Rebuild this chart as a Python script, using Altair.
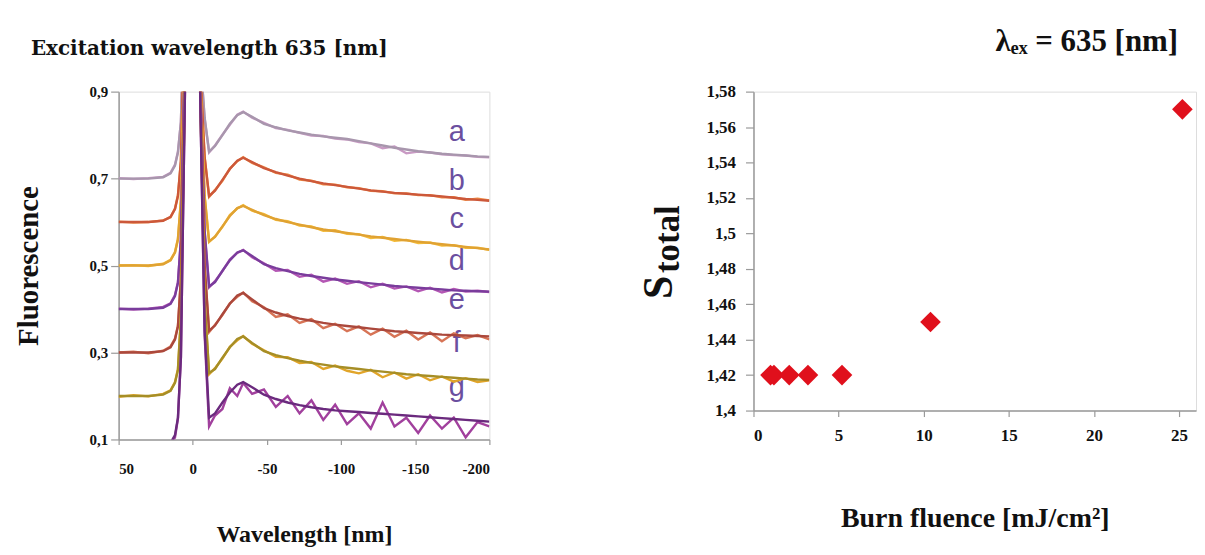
import altair as alt
import pandas as pd

# ---------------- left panel data ----------------
wavelength = [50, 40, 30, 20, 15, 12, 10, 8, 5, 2, 0, -2, -5, -8, -11, -15, -20, -25, -30, -34,
              -40, -48, -56, -64, -72, -80, -88, -96, -104, -112, -120, -128, -136, -144, -152,
              -160, -168, -176, -184, -192, -200]

a_fit = [0.700, 0.700, 0.700, 0.703, 0.712, 0.730, 0.760, 0.830, 1.200, 2.500, 3.000, 2.500, 0.980, 0.840, 0.762, 0.775, 0.800, 0.826, 0.846, 0.853,
         0.842, 0.826, 0.818, 0.811, 0.806, 0.801, 0.797, 0.794, 0.791, 0.786, 0.781, 0.776, 0.771, 0.767, 0.763, 0.760, 0.757, 0.755, 0.753, 0.751, 0.750]
a_obs = [0.701, 0.699, 0.701, 0.704, 0.713, 0.732, 0.762, 0.830, 1.200, 2.500, 3.000, 2.500, 0.980, 0.838, 0.760, 0.776, 0.801, 0.824, 0.847, 0.854,
         0.840, 0.828, 0.816, 0.812, 0.805, 0.799, 0.798, 0.792, 0.790, 0.784, 0.781, 0.770, 0.774, 0.758, 0.762, 0.760, 0.756, 0.754, 0.753, 0.750, 0.749]

b_fit = [0.600, 0.600, 0.600, 0.603, 0.612, 0.630, 0.660, 0.740, 1.150, 2.400, 3.000, 2.400, 0.950, 0.750, 0.660, 0.672, 0.697, 0.722, 0.741, 0.748,
         0.738, 0.724, 0.715, 0.707, 0.700, 0.694, 0.689, 0.685, 0.681, 0.677, 0.673, 0.670, 0.667, 0.665, 0.663, 0.661, 0.659, 0.656, 0.653, 0.651, 0.649]
b_obs = [0.601, 0.599, 0.600, 0.604, 0.611, 0.631, 0.662, 0.740, 1.150, 2.400, 3.000, 2.400, 0.950, 0.748, 0.658, 0.674, 0.695, 0.723, 0.740, 0.749,
         0.736, 0.726, 0.713, 0.709, 0.698, 0.695, 0.687, 0.686, 0.680, 0.678, 0.672, 0.671, 0.666, 0.666, 0.662, 0.662, 0.657, 0.657, 0.651, 0.654, 0.650]

c_fit = [0.500, 0.500, 0.500, 0.503, 0.512, 0.530, 0.560, 0.650, 1.100, 2.300, 3.000, 2.300, 0.930, 0.660, 0.556, 0.566, 0.590, 0.614, 0.632, 0.637,
         0.628, 0.616, 0.607, 0.600, 0.594, 0.588, 0.583, 0.579, 0.575, 0.571, 0.567, 0.564, 0.561, 0.558, 0.555, 0.552, 0.549, 0.546, 0.543, 0.540, 0.537]
c_obs = [0.500, 0.501, 0.499, 0.504, 0.513, 0.531, 0.562, 0.650, 1.100, 2.300, 3.000, 2.300, 0.930, 0.658, 0.554, 0.567, 0.589, 0.616, 0.631, 0.639,
         0.626, 0.618, 0.605, 0.602, 0.592, 0.590, 0.580, 0.581, 0.573, 0.572, 0.563, 0.566, 0.557, 0.559, 0.552, 0.553, 0.546, 0.547, 0.541, 0.541, 0.536]

d_fit = [0.400, 0.400, 0.400, 0.403, 0.412, 0.430, 0.460, 0.560, 1.050, 2.200, 3.000, 2.200, 0.920, 0.580, 0.452, 0.462, 0.488, 0.512, 0.530, 0.535,
         0.522, 0.503, 0.494, 0.487, 0.481, 0.476, 0.472, 0.468, 0.465, 0.462, 0.459, 0.456, 0.453, 0.451, 0.449, 0.447, 0.445, 0.443, 0.442, 0.441, 0.440]
d_obs = [0.401, 0.399, 0.401, 0.405, 0.413, 0.432, 0.462, 0.560, 1.050, 2.200, 3.000, 2.200, 0.920, 0.576, 0.450, 0.464, 0.487, 0.514, 0.529, 0.536,
         0.519, 0.505, 0.488, 0.490, 0.474, 0.479, 0.463, 0.470, 0.458, 0.464, 0.450, 0.458, 0.447, 0.452, 0.441, 0.449, 0.438, 0.446, 0.440, 0.442, 0.439]

e_fit = [0.300, 0.300, 0.300, 0.303, 0.312, 0.330, 0.360, 0.470, 1.000, 2.100, 3.000, 2.100, 0.910, 0.500, 0.350, 0.362, 0.388, 0.412, 0.431, 0.437,
         0.422, 0.402, 0.392, 0.384, 0.378, 0.373, 0.368, 0.364, 0.361, 0.358, 0.355, 0.352, 0.349, 0.347, 0.345, 0.343, 0.341, 0.340, 0.339, 0.338, 0.337]
e_obs = [0.300, 0.302, 0.298, 0.304, 0.314, 0.332, 0.362, 0.470, 1.000, 2.100, 3.000, 2.100, 0.910, 0.495, 0.347, 0.364, 0.386, 0.413, 0.428, 0.438,
         0.418, 0.404, 0.382, 0.388, 0.368, 0.377, 0.356, 0.366, 0.349, 0.360, 0.341, 0.355, 0.336, 0.350, 0.330, 0.346, 0.326, 0.344, 0.333, 0.340, 0.330]

f_fit = [0.200, 0.200, 0.200, 0.203, 0.212, 0.230, 0.260, 0.380, 0.980, 2.000, 3.000, 2.000, 0.900, 0.420, 0.253, 0.262, 0.288, 0.312, 0.331, 0.337,
         0.322, 0.303, 0.294, 0.287, 0.281, 0.276, 0.272, 0.268, 0.265, 0.262, 0.259, 0.256, 0.253, 0.250, 0.248, 0.246, 0.244, 0.242, 0.240, 0.238, 0.237]
f_obs = [0.198, 0.202, 0.199, 0.205, 0.213, 0.232, 0.262, 0.380, 0.980, 2.000, 3.000, 2.000, 0.900, 0.415, 0.250, 0.264, 0.286, 0.313, 0.328, 0.338,
         0.320, 0.305, 0.290, 0.289, 0.276, 0.278, 0.262, 0.270, 0.258, 0.252, 0.260, 0.243, 0.254, 0.240, 0.250, 0.236, 0.245, 0.233, 0.241, 0.232, 0.236]

g_fit = [0.080, 0.080, 0.080, 0.083, 0.092, 0.110, 0.150, 0.290, 0.960, 1.900, 3.000, 1.900, 0.890, 0.350, 0.150, 0.160, 0.185, 0.208, 0.226, 0.232,
         0.220, 0.203, 0.193, 0.185, 0.179, 0.174, 0.170, 0.167, 0.165, 0.163, 0.161, 0.159, 0.157, 0.155, 0.153, 0.151, 0.149, 0.147, 0.145, 0.143, 0.141]
g_obs = [0.070, 0.072, 0.071, 0.074, 0.085, 0.105, 0.148, 0.290, 0.960, 1.900, 3.000, 1.900, 0.890, 0.340, 0.130, 0.155, 0.170, 0.218, 0.200, 0.230,
         0.205, 0.215, 0.175, 0.200, 0.160, 0.190, 0.145, 0.180, 0.135, 0.160, 0.125, 0.185, 0.130, 0.150, 0.115, 0.155, 0.125, 0.150, 0.105, 0.140, 0.130]

series_names = ["a", "b", "c", "d", "e", "f", "g"]
fit_values = [a_fit, b_fit, c_fit, d_fit, e_fit, f_fit, g_fit]
obs_values = [a_obs, b_obs, c_obs, d_obs, e_obs, f_obs, g_obs]
fit_colors = ["#a896ad", "#cc583a", "#e0a232", "#7a3c9c", "#ab483c", "#a68e26", "#6b2a7e"]
obs_colors = ["#c99ac4", "#ee8a44", "#f3bb3a", "#b457b4", "#d77456", "#e1a52a", "#a1409d"]

label_x = [-178, -178, -178, -178, -178, -178, -178]
label_y = [0.808, 0.695, 0.606, 0.510, 0.421, 0.322, 0.221]
label_color = "#6b4f9f"

# ---------------- right panel data ----------------
fluence = [1.0, 1.2, 2.1, 3.2, 5.2, 10.4, 25.2]
s_total = [1.42, 1.42, 1.42, 1.42, 1.42, 1.45, 1.57]

left_x_ticks = [50, 0, -50, -100, -150, -200]
left_y_ticks = [0.1, 0.3, 0.5, 0.7, 0.9]
right_x_ticks = [0, 5, 10, 15, 20, 25]
right_y_ticks = [1.40, 1.42, 1.44, 1.46, 1.48, 1.50, 1.52, 1.54, 1.56, 1.58]

# ---------------- build tables ----------------
rows = []
keys, colors = [], []
for name, fit, obs, fc, oc in zip(series_names, fit_values, obs_values, fit_colors, obs_colors):
    keys += [name + "_obs", name + "_fit"]
    colors += [oc, fc]
    for x, yo, yf in zip(wavelength, obs, fit):
        rows.append({"wl": x, "val": yo, "series": name + "_obs"})
        rows.append({"wl": x, "val": yf, "series": name + "_fit"})
spectra = pd.DataFrame(rows)
labels = pd.DataFrame({"wl": label_x, "val": label_y, "txt": series_names})
points = pd.DataFrame({"fluence": fluence, "s": s_total})

SERIF = "Liberation Serif"
AXIS_GRAY = "#9a9a9a"

def axis_common(**kw):
    base = dict(grid=False, domainColor=AXIS_GRAY, domainWidth=1.5, tickColor=AXIS_GRAY,
                tickWidth=1.2, labelFont=SERIF, labelFontWeight="bold", labelColor="#111",
                titleFont=SERIF, titleFontWeight="bold", titleColor="#111")
    base.update(kw)
    return alt.Axis(**base)

# ---------------- left panel ----------------
LW, LH = 372, 349
xl = alt.X("wl:Q",
           scale=alt.Scale(domain=[-200, 50], reverse=True, nice=False, zero=False),
           axis=axis_common(values=left_x_ticks, labelExpr="toString(datum.value)",
                            title="Wavelength [nm]", labelFontSize=15, titleFontSize=24,
                            tickSize=5, labelPadding=17, titlePadding=46))
yl = alt.Y("val:Q",
           scale=alt.Scale(domain=[0.1, 0.9], nice=False, zero=False),
           axis=axis_common(values=left_y_ticks,
                            labelExpr="replace(toString(datum.value), '.', ',')",
                            title="Fluorescence", labelFontSize=15, titleFontSize=29,
                            tickSize=8, labelPadding=3, titlePadding=46))

lines = alt.Chart(spectra).mark_line(clip=True, strokeWidth=2.4).encode(
    x=xl, y=yl,
    color=alt.Color("series:N", scale=alt.Scale(domain=keys, range=colors), legend=None),
)
letters = alt.Chart(labels).mark_text(font="Liberation Sans", fontSize=29, color=label_color,
                                      baseline="middle", align="center").encode(
    x=alt.X("wl:Q"), y=alt.Y("val:Q"), text="txt:N")

left = alt.layer(letters, lines).properties(
    width=LW, height=LH,
    title=alt.TitleParams("Excitation wavelength 635 [nm]", font="DejaVu Serif", fontSize=20,
                          fontWeight="bold", color="#111", anchor="start", frame="group",
                          offset=26, dx=-88),
)

# ---------------- right panel ----------------
RW, RH = 444, 320
xr = alt.X("fluence:Q", scale=alt.Scale(domain=[0, 26], nice=False, zero=False),
           axis=axis_common(values=right_x_ticks, title="Burn fluence [mJ/cm²]",
                            labelFontSize=17, titleFontSize=28, tickSize=6,
                            labelPadding=11, titlePadding=61))
yr = alt.Y("s:Q", scale=alt.Scale(domain=[1.4, 1.58], nice=False, zero=False),
           axis=axis_common(values=right_y_ticks,
                            labelExpr="replace(toString(datum.value), '.', ',')",
                            title=None, labelFontSize=17, tickSize=8, labelPadding=10))

diamonds = alt.Chart(points).mark_point(shape="diamond", filled=True, size=430, color="#e0101c",
                                        opacity=1).encode(x=xr, y=yr)

# y-axis title: "S" with subscript "total"
title_s = alt.Chart(pd.DataFrame({"t": ["S"]})).mark_text(
    font=SERIF, fontWeight="bold", fontSize=42, color="#111", angle=270,
    align="left", baseline="alphabetic").encode(
    x=alt.value(-82), y=alt.value(208), text="t:N")
title_sub = alt.Chart(pd.DataFrame({"t": ["total"]})).mark_text(
    font=SERIF, fontWeight="bold", fontSize=35, color="#111", angle=270,
    align="left", baseline="alphabetic").encode(
    x=alt.value(-75), y=alt.value(182), text="t:N")

right = alt.layer(diamonds, title_s, title_sub).properties(
    width=RW, height=RH,
    title=alt.TitleParams("λₑₓ = 635 [nm]", font=SERIF, fontSize=31, fontWeight="bold",
                          color="#111", anchor="end", frame="group", offset=25, dx=-18),
)

chart = alt.hconcat(left, right, spacing=146).properties(
    padding={"left": 5, "top": 16, "right": 0, "bottom": 0}
).configure_view(stroke=AXIS_GRAY, strokeWidth=1.5).configure(background="white")

chart.save("out.html", embed_options={"renderer": "svg", "actions": False})
